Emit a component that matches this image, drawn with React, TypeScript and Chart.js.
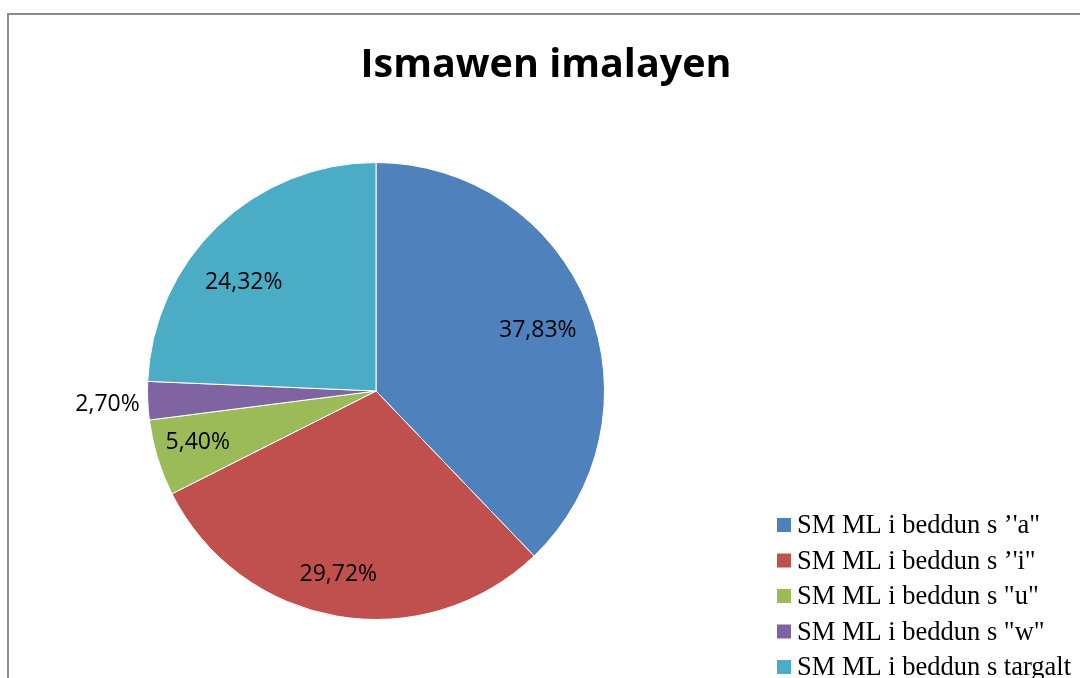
import React, { useEffect, useRef } from "react";
import { Chart, registerables } from "chart.js";

Chart.register(...registerables);

const chartTitle = "Ismawen imalayen";
const categories = [
  "SM ML i beddun s \u2019'a\"",
  "SM ML i beddun s \u2019'i\"",
  "SM ML i beddun s \"u\"",
  "SM ML i beddun s \"w\"",
  "SM ML i beddun s targalt",
];
const values = [37.83, 29.72, 5.4, 2.7, 24.32];
const valueLabels = ["37,83%", "29,72%", "5,40%", "2,70%", "24,32%"];
const colors = ["#4F81BD", "#C0504D", "#9BBB59", "#8064A2", "#4BACC6"];

// label placement style: radial factor (fraction of radius, <0 => outside) and angle nudge (deg)
const labelRadial = [0.76, 0.81, 0.81, -1, 0.755];
const labelAngleNudge = [0.6, 2, 1.4, 0, -6.3];

const labelFont = "23px 'Open Sans', 'Noto Sans', sans-serif";

const overlayPlugin = {
  id: "overlay",
  afterDatasetsDraw(chart: any) {
    const ctx = chart.ctx;
    const meta = chart.getDatasetMeta(0);
    // title
    ctx.save();
    ctx.fillStyle = "#000";
    ctx.font = "bold 39.5px 'Open Sans', 'Noto Sans', sans-serif";
    ctx.textAlign = "center";
    ctx.textBaseline = "middle";
    ctx.fillText(chartTitle, 546, 66);
    ctx.restore();

    // value labels
    ctx.save();
    ctx.font = labelFont;
    ctx.fillStyle = "#000";
    ctx.textBaseline = "middle";
    meta.data.forEach((arc: any, i: number) => {
      const p = arc.getProps(["x", "y", "startAngle", "endAngle", "outerRadius"], true);
      const mid = (p.startAngle + p.endAngle) / 2 + (labelAngleNudge[i] * Math.PI) / 180;
      if (labelRadial[i] < 0) {
        const r = p.outerRadius + 8;
        ctx.textAlign = "right";
        ctx.fillText(valueLabels[i], p.x + Math.cos(mid) * r, p.y + Math.sin(mid) * r + 3);
      } else {
        const r = p.outerRadius * labelRadial[i];
        ctx.textAlign = "center";
        ctx.fillText(valueLabels[i], p.x + Math.cos(mid) * r, p.y + Math.sin(mid) * r + 2);
      }
    });
    ctx.restore();

    // legend
    ctx.save();
    ctx.font = "26.5px 'Liberation Serif', 'Times New Roman', serif";
    ctx.textBaseline = "alphabetic";
    ctx.textAlign = "left";
    categories.forEach((c, i) => {
      const cy = 525 + i * 35.5;
      ctx.fillStyle = colors[i];
      ctx.fillRect(777, cy - 7, 14, 14);
      ctx.fillStyle = "#000";
      ctx.fillText(c, 797, cy + 8);
    });
    ctx.restore();
  },
};

export default function App() {
  const ref = useRef<HTMLCanvasElement | null>(null);
  useEffect(() => {
    if (!ref.current) return;
    const chart = new Chart(ref.current, {
      type: "pie",
      data: {
        labels: categories,
        datasets: [
          {
            data: values,
            backgroundColor: colors,
            borderColor: "#ffffff",
            borderWidth: 1,
          },
        ],
      },
      options: {
        responsive: false,
        animation: false,
        layout: { padding: { left: 147, right: 475, top: 162, bottom: 58 } },
        plugins: {
          legend: { display: false },
          title: { display: false },
          tooltip: { enabled: false },
        },
      },
      plugins: [overlayPlugin],
    });
    return () => chart.destroy();
  }, []);
  return (
    <div style={{ position: "fixed", left: 0, top: 0, width: 1080, height: 678, background: "#fff", overflow: "hidden" }}>
      <div
        style={{
          position: "absolute",
          left: 7,
          top: 13,
          width: 1200,
          height: 800,
          border: "2px solid #8c8c8c",
          boxSizing: "border-box",
        }}
      />
      <canvas ref={ref} width={1080} height={678} style={{ position: "absolute", left: 0, top: 0 }} />
    </div>
  );
}
